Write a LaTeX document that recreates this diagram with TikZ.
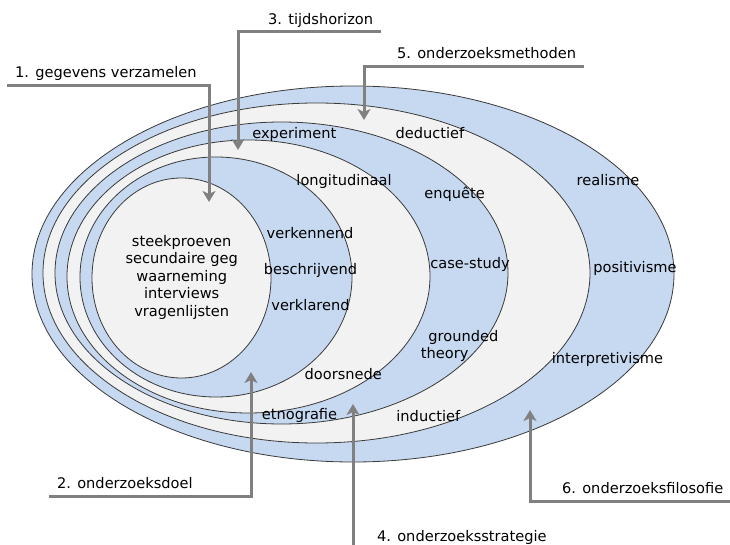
\documentclass[tikz,border=0pt]{standalone}
\usepackage{fontspec}
\setmainfont{DejaVu Sans}
\usetikzlibrary{arrows.meta}
\definecolor{ringblue}{HTML}{C6D9F1}
\definecolor{ringgray}{HTML}{F2F2F2}
\definecolor{callgray}{HTML}{808080}
\definecolor{edgegray}{HTML}{3A3A3A}
\begin{document}
\begin{tikzpicture}[x=1pt,y=-1pt,
  bluering/.style={fill=ringblue,draw=edgegray,line width=0.8pt},
  grayring/.style={fill=ringgray,draw=edgegray,line width=0.8pt},
  lbl/.style={font=\fontsize{14.6}{17.5}\selectfont, inner sep=0pt, anchor=base},
  calllbl/.style={lbl, anchor=base west},
  callout/.style={draw=callgray, line width=3pt, -{Stealth[length=11pt,width=13pt,inset=3pt]}}]
\useasboundingbox[fill=white] (0,0) rectangle (730,545);

% rings, outermost first
\path[bluering] (353,274) ellipse [x radius=321pt, y radius=188pt];
\path[grayring] (316.5,273) ellipse [x radius=273.5pt, y radius=170pt];
\path[bluering] (281.5,273) ellipse [x radius=226.5pt, y radius=151pt];
\path[grayring] (248.5,276.5) ellipse [x radius=181.5pt, y radius=136.5pt];
\path[bluering] (216,277) ellipse [x radius=136pt, y radius=120pt];
\path[grayring] (181.5,278) ellipse [x radius=89.5pt, y radius=100pt];

% ring texts
\node[lbl, anchor=center, align=center] (data) at (181.7,277)
  {steekproeven\\secundaire geg\\waarneming\\interviews\\vragenlijsten};
\node[lbl] (verk) at (310,239) {verkennend};
\node[lbl] (besch) at (310.5,274) {beschrijvend};
\node[lbl] (verkl) at (310.5,310) {verklarend};
\node[lbl] (longi) at (344,186) {longitudinaal};
\node[lbl] (doors) at (343.3,379) {doorsnede};
\node[lbl] (exper) at (294.3,139) {experiment};
\node[lbl] (enq) at (454.7,199) {enquête};
\node[lbl] (case) at (470,269) {case-study};
\node[lbl] (grnd) at (463.3,341) {grounded};
\node[lbl] (theo) at (444.7,358) {theory};
\node[lbl] (etno) at (299.5,419) {etnografie};
\node[lbl] (dedu) at (430,139) {deductief};
\node[lbl] (indu) at (428.3,421) {inductief};
\node[lbl] (real) at (608,186) {realisme};
\node[lbl] (posi) at (635,272) {positivisme};
\node[lbl] (inte) at (607.5,363) {interpretivisme};

% callout labels
\node[calllbl] (l1) at (15,78) {1. gegevens verzamelen};
\node[calllbl] (l3) at (268,25) {3. tijdshorizon};
\node[calllbl] (l5) at (397,59) {5. onderzoeksmethoden};
\node[calllbl] (l2) at (57,488) {2. onderzoeksdoel};
\node[calllbl] (l4) at (377,541) {4. onderzoeksstrategie};
\node[calllbl] (l6) at (562,493) {6. onderzoeksfilosofie};

% callout lines
\coordinate (c1s) at (7,86);    \coordinate (c1t) at (209,202);
\coordinate (c3s) at (381,32);  \coordinate (c3t) at (238,150);
\coordinate (c5s) at (584,67);  \coordinate (c5t) at (364,120);
\coordinate (c2s) at (49,496);  \coordinate (c2t) at (251,372);
\coordinate (c4s) at (353,546); \coordinate (c4t) at (353,404);
\coordinate (c6s) at (731,501); \coordinate (c6t) at (530,410);
\draw[callout] (c1s) -| (c1t);
\draw[callout] (c3s) -| (c3t);
\draw[callout] (c5s) -| (c5t);
\draw[callout] (c2s) -| (c2t);
\draw[callout] (c4s) -- (c4t);
\draw[callout] (c6s) -| (c6t);
\end{tikzpicture}
\end{document}
